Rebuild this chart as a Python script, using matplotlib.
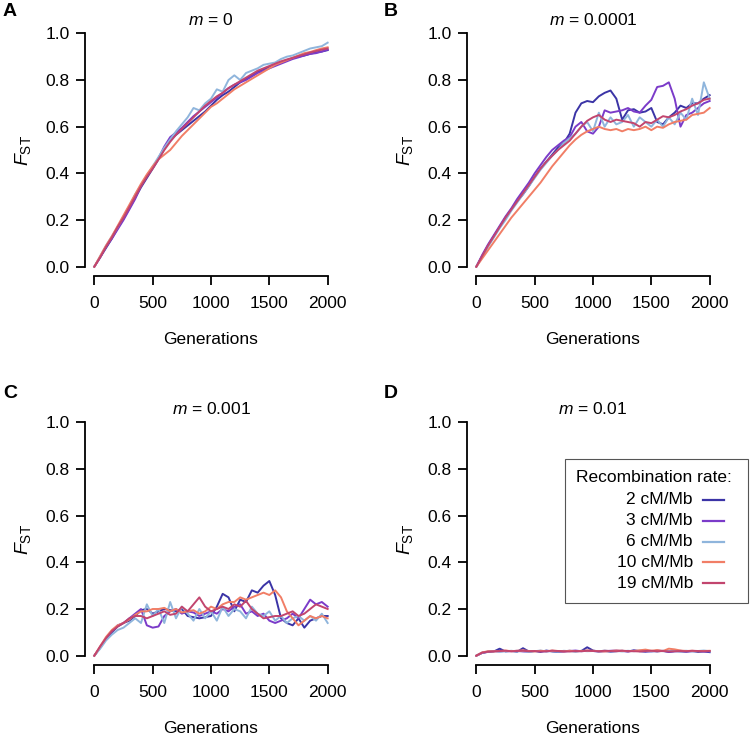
import matplotlib
matplotlib.use("Agg")
import matplotlib.pyplot as plt
from matplotlib.lines import Line2D
from matplotlib.patches import Rectangle

plt.rcParams['font.family'] = ['Liberation Sans', 'DejaVu Sans']
plt.rcParams['mathtext.fontset'] = 'custom'
plt.rcParams['mathtext.rm'] = 'Liberation Sans'
plt.rcParams['mathtext.it'] = 'Liberation Sans:italic'

# ---------------------------------------------------------
# DATA (F_ST every 50 generations)
# ---------------------------------------------------------
generations = list(range(0, 2001, 50))

rate_labels = ["2 cM/Mb", "3 cM/Mb", "6 cM/Mb", "10 cM/Mb", "19 cM/Mb"]
rate_colors = ["#3b34a6", "#7b3bc9", "#8fb5dc", "#f17e66", "#c2456e"]

panel_letters = ["A", "B", "C", "D"]
migration_rates = ["0", "0.0001", "0.001", "0.01"]

# m = 0
A2 = [0, 0.04, 0.08, 0.12, 0.165, 0.205, 0.25, 0.295, 0.34, 0.38, 0.42, 0.46, 0.505, 0.545, 0.565, 0.585,
      0.605, 0.625, 0.645, 0.665, 0.69, 0.715, 0.735, 0.75, 0.77, 0.79, 0.805, 0.82, 0.835, 0.845, 0.855,
      0.865, 0.875, 0.885, 0.893, 0.90, 0.905, 0.912, 0.918, 0.922, 0.928]
A3 = [0, 0.04, 0.085, 0.12, 0.16, 0.20, 0.245, 0.29, 0.345, 0.39, 0.425, 0.465, 0.515, 0.555, 0.575, 0.595,
      0.62, 0.645, 0.665, 0.685, 0.705, 0.725, 0.745, 0.765, 0.78, 0.79, 0.80, 0.815, 0.83, 0.84, 0.85,
      0.86, 0.87, 0.88, 0.89, 0.897, 0.905, 0.912, 0.915, 0.922, 0.93]
A6 = [0, 0.045, 0.09, 0.13, 0.17, 0.215, 0.26, 0.31, 0.35, 0.39, 0.43, 0.47, 0.51, 0.545, 0.58, 0.61,
      0.64, 0.68, 0.67, 0.70, 0.72, 0.76, 0.75, 0.80, 0.82, 0.80, 0.83, 0.84, 0.85, 0.865, 0.87,
      0.875, 0.89, 0.90, 0.905, 0.915, 0.925, 0.935, 0.94, 0.945, 0.96]
A10 = [0, 0.045, 0.09, 0.13, 0.175, 0.22, 0.265, 0.31, 0.355, 0.395, 0.43, 0.46, 0.48, 0.50, 0.53, 0.56,
       0.585, 0.61, 0.635, 0.66, 0.685, 0.70, 0.72, 0.74, 0.76, 0.775, 0.79, 0.805, 0.82, 0.835, 0.85,
       0.865, 0.875, 0.885, 0.895, 0.905, 0.915, 0.92, 0.928, 0.935, 0.94]
A19 = [0, 0.04, 0.085, 0.125, 0.17, 0.21, 0.255, 0.30, 0.345, 0.385, 0.42, 0.46, 0.50, 0.535, 0.565, 0.59,
       0.615, 0.64, 0.665, 0.69, 0.71, 0.73, 0.745, 0.765, 0.78, 0.795, 0.81, 0.825, 0.84, 0.85, 0.86,
       0.87, 0.88, 0.888, 0.895, 0.903, 0.91, 0.918, 0.924, 0.93, 0.935]

# m = 0.0001
B2 = [0, 0.045, 0.09, 0.13, 0.17, 0.21, 0.245, 0.28, 0.31, 0.345, 0.385, 0.42, 0.45, 0.48, 0.51, 0.53,
      0.57, 0.66, 0.70, 0.71, 0.705, 0.73, 0.745, 0.755, 0.72, 0.63, 0.67, 0.675, 0.66, 0.665, 0.68,
      0.62, 0.61, 0.64, 0.66, 0.69, 0.68, 0.70, 0.70, 0.72, 0.735]
B3 = [0, 0.05, 0.095, 0.135, 0.175, 0.215, 0.25, 0.29, 0.325, 0.36, 0.40, 0.435, 0.47, 0.50, 0.52, 0.54,
      0.555, 0.60, 0.62, 0.58, 0.57, 0.60, 0.67, 0.66, 0.665, 0.67, 0.68, 0.665, 0.66, 0.69, 0.715,
      0.77, 0.775, 0.79, 0.72, 0.60, 0.65, 0.66, 0.68, 0.70, 0.71]
B6 = [0, 0.04, 0.085, 0.125, 0.165, 0.20, 0.24, 0.275, 0.31, 0.345, 0.38, 0.415, 0.445, 0.475, 0.50, 0.53,
      0.55, 0.57, 0.60, 0.62, 0.58, 0.66, 0.60, 0.64, 0.61, 0.62, 0.65, 0.60, 0.64, 0.62, 0.60,
      0.63, 0.60, 0.64, 0.61, 0.66, 0.63, 0.72, 0.65, 0.79, 0.72]
B10 = [0, 0.035, 0.07, 0.105, 0.14, 0.175, 0.21, 0.24, 0.27, 0.30, 0.33, 0.36, 0.395, 0.43, 0.46, 0.49,
       0.52, 0.545, 0.565, 0.58, 0.59, 0.60, 0.59, 0.585, 0.59, 0.58, 0.59, 0.585, 0.59, 0.60, 0.585,
       0.60, 0.595, 0.61, 0.62, 0.625, 0.63, 0.65, 0.655, 0.66, 0.68]
B19 = [0, 0.045, 0.09, 0.13, 0.17, 0.21, 0.245, 0.28, 0.315, 0.35, 0.385, 0.42, 0.45, 0.475, 0.50, 0.52,
       0.54, 0.57, 0.60, 0.625, 0.64, 0.65, 0.63, 0.62, 0.63, 0.625, 0.62, 0.615, 0.60, 0.62, 0.615,
       0.63, 0.645, 0.64, 0.65, 0.665, 0.675, 0.69, 0.70, 0.715, 0.72]

# m = 0.001
C2 = [0, 0.035, 0.07, 0.10, 0.125, 0.14, 0.15, 0.17, 0.195, 0.20, 0.18, 0.19, 0.20, 0.195, 0.19, 0.20,
      0.17, 0.165, 0.16, 0.165, 0.17, 0.21, 0.265, 0.25, 0.19, 0.24, 0.23, 0.28, 0.27, 0.30, 0.32,
      0.26, 0.16, 0.14, 0.13, 0.16, 0.12, 0.15, 0.16, 0.17, 0.17]
C3 = [0, 0.035, 0.075, 0.105, 0.13, 0.14, 0.16, 0.18, 0.20, 0.13, 0.12, 0.125, 0.17, 0.19, 0.20, 0.18,
      0.19, 0.185, 0.17, 0.18, 0.19, 0.18, 0.20, 0.19, 0.21, 0.22, 0.18, 0.19, 0.17, 0.18, 0.15,
      0.14, 0.15, 0.16, 0.18, 0.16, 0.20, 0.24, 0.22, 0.23, 0.21]
C6 = [0, 0.03, 0.065, 0.09, 0.11, 0.12, 0.14, 0.16, 0.14, 0.22, 0.17, 0.20, 0.14, 0.23, 0.16, 0.21,
      0.18, 0.15, 0.20, 0.16, 0.19, 0.15, 0.21, 0.17, 0.20, 0.19, 0.16, 0.21, 0.18, 0.17, 0.19,
      0.15, 0.17, 0.14, 0.16, 0.17, 0.15, 0.17, 0.15, 0.18, 0.14]
C10 = [0, 0.04, 0.08, 0.11, 0.13, 0.14, 0.155, 0.175, 0.19, 0.19, 0.20, 0.20, 0.205, 0.19, 0.20, 0.185,
       0.19, 0.195, 0.18, 0.19, 0.21, 0.20, 0.22, 0.23, 0.23, 0.25, 0.24, 0.25, 0.26, 0.27, 0.26,
       0.28, 0.25, 0.19, 0.16, 0.13, 0.15, 0.17, 0.16, 0.17, 0.16]
C19 = [0, 0.04, 0.075, 0.105, 0.125, 0.14, 0.16, 0.17, 0.17, 0.16, 0.17, 0.18, 0.19, 0.175, 0.18, 0.21,
       0.19, 0.22, 0.25, 0.21, 0.19, 0.20, 0.21, 0.20, 0.22, 0.21, 0.235, 0.20, 0.18, 0.16, 0.165,
       0.17, 0.17, 0.18, 0.19, 0.17, 0.18, 0.20, 0.22, 0.21, 0.20]

# m = 0.01
D2 = [0, 0.012, 0.016, 0.018, 0.030, 0.018, 0.020, 0.017, 0.032, 0.018, 0.020, 0.016, 0.022, 0.018, 0.016,
      0.019, 0.021, 0.018, 0.020, 0.036, 0.022, 0.018, 0.020, 0.017, 0.019, 0.021, 0.018, 0.023, 0.019,
      0.017, 0.020, 0.018, 0.021, 0.016, 0.019, 0.018, 0.017, 0.020, 0.016, 0.018, 0.015]
D3 = [0, 0.012, 0.017, 0.019, 0.018, 0.020, 0.019, 0.021, 0.018, 0.017, 0.020, 0.019, 0.018, 0.021, 0.019,
      0.017, 0.020, 0.022, 0.019, 0.021, 0.020, 0.018, 0.019, 0.021, 0.022, 0.020, 0.018, 0.021, 0.020,
      0.019, 0.018, 0.022, 0.020, 0.017, 0.019, 0.021, 0.018, 0.019, 0.020, 0.018, 0.019]
D6 = [0, 0.013, 0.018, 0.020, 0.017, 0.019, 0.021, 0.018, 0.020, 0.016, 0.019, 0.022, 0.018, 0.020, 0.017,
      0.021, 0.019, 0.018, 0.021, 0.019, 0.020, 0.018, 0.022, 0.019, 0.020, 0.018, 0.021, 0.019, 0.022,
      0.020, 0.018, 0.021, 0.019, 0.020, 0.023, 0.019, 0.021, 0.018, 0.020, 0.022, 0.019]
D10 = [0, 0.014, 0.019, 0.018, 0.020, 0.022, 0.019, 0.021, 0.023, 0.020, 0.018, 0.021, 0.019, 0.022, 0.020,
       0.018, 0.021, 0.019, 0.020, 0.022, 0.021, 0.019, 0.018, 0.020, 0.022, 0.021, 0.019, 0.020, 0.023,
       0.026, 0.021, 0.024, 0.020, 0.030, 0.027, 0.022, 0.020, 0.021, 0.019, 0.020, 0.021]
D19 = [0, 0.013, 0.017, 0.019, 0.020, 0.021, 0.019, 0.020, 0.021, 0.019, 0.020, 0.018, 0.019, 0.021, 0.020,
       0.019, 0.018, 0.020, 0.019, 0.021, 0.020, 0.019, 0.021, 0.020, 0.019, 0.021, 0.020, 0.019, 0.018,
       0.020, 0.021, 0.019, 0.020, 0.018, 0.019, 0.020, 0.019, 0.021, 0.020, 0.019, 0.020]

panels = [
    [A2, A3, A6, A10, A19],
    [B2, B3, B6, B10, B19],
    [C2, C3, C6, C10, C19],
    [D2, D3, D6, D10, D19],
]

# ---------------------------------------------------------
# FIGURE
# ---------------------------------------------------------
W, H = 750, 735
fig = plt.figure(figsize=(W / 100, H / 100), dpi=100)
FS = 12.5


def fx(x):
    return x / W


def fy(y):
    return 1 - y / H


# plot regions in pixels: (left, top, right, bottom)
regions = [(85, 24, 337, 276), (467, 24, 719, 276),
           (85, 413, 337, 665), (467, 413, 719, 665)]
letter_pos = [(3, 11), (384, 11), (3, 394), (384, 394)]

for k, (l, t, r, b) in enumerate(regions):
    ax = fig.add_axes([fx(l), fy(b), (r - l) / W, (b - t) / H])
    for series, col in zip(panels[k], rate_colors):
        ax.plot(generations, series, color=col, lw=1.4, solid_joinstyle='round')

    ax.set_xlim(-80, 2080)
    ax.set_ylim(-0.04, 1.04)
    ax.set_xticks([0, 500, 1000, 1500, 2000])
    ax.set_yticks([0.0, 0.2, 0.4, 0.6, 0.8, 1.0])
    ax.set_yticklabels(["0.0", "0.2", "0.4", "0.6", "0.8", "1.0"])
    for s in ["top", "right"]:
        ax.spines[s].set_visible(False)
    ax.spines["left"].set_bounds(0, 1)
    ax.spines["bottom"].set_bounds(0, 2000)
    ax.spines["left"].set_linewidth(1.3)
    ax.spines["bottom"].set_linewidth(1.3)
    ax.tick_params(axis="x", length=6.2, width=1.3, pad=8.5, labelsize=FS)
    ax.tick_params(axis="y", length=6.2, width=1.3, pad=5, labelsize=FS)
    ax.set_xlabel("Generations", fontsize=FS, labelpad=15)
    ax.set_ylabel(r"$F_{\mathrm{ST}}$", fontsize=14, labelpad=9)
    ax.text(0.5, 1.016, r"$m$ = " + migration_rates[k], transform=ax.transAxes,
            ha="center", va="center", fontsize=FS)

    lx, ly = letter_pos[k]
    fig.text(fx(lx), fy(ly), panel_letters[k], fontsize=14, fontweight="bold",
             ha="left", va="center")

# legend drawn by hand (labels right aligned, key line on the right)
fig.add_artist(Rectangle((fx(565), fy(603)), (748 - 565) / W, (603 - 459) / H,
                         transform=fig.transFigure, fill=False, edgecolor="#555555", lw=0.8))
fig.text(fx(576), fy(478), "Recombination rate:", fontsize=FS, ha="left", va="center")
for i, (lab, col) in enumerate(zip(rate_labels, rate_colors)):
    yy = 500 + i * 20.8
    fig.text(fx(693), fy(yy), lab, fontsize=FS, ha="right", va="center")
    fig.add_artist(Line2D([fx(703), fx(724)], [fy(yy), fy(yy)], transform=fig.transFigure,
                          color=col, lw=1.6))

plt.savefig("out.png", dpi=100)
